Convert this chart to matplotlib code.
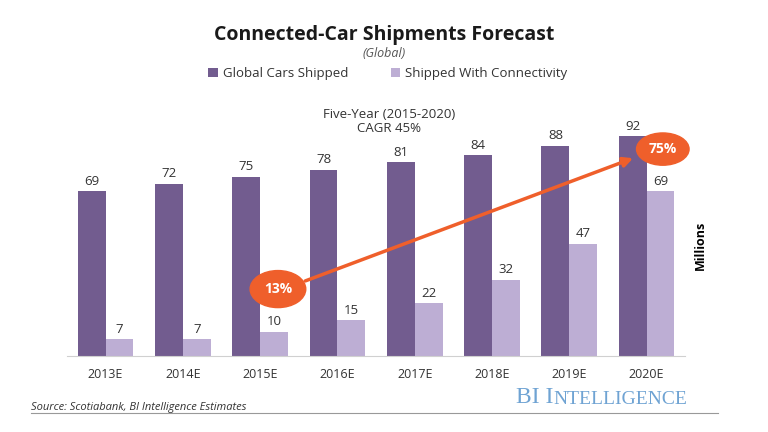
import matplotlib.pyplot as plt
from matplotlib.patches import Ellipse
import numpy as np

years = ['2013E', '2014E', '2015E', '2016E', '2017E', '2018E', '2019E', '2020E']
global_cars = [69, 72, 75, 78, 81, 84, 88, 92]
connected = [7, 7, 10, 15, 22, 32, 47, 69]
share_start = '13%'
share_end = '75%'

dark = '#725c8f'
light = '#bdaed4'
orange = '#ef5f2b'

plt.rcParams['font.family'] = ['Open Sans', 'DejaVu Sans']

fig = plt.figure(figsize=(7.68, 4.32), dpi=100)
ax = fig.add_axes([0.0872, 0.176, 0.805, 0.553])

x = np.arange(len(years))
w = 0.36
ax.bar(x - w / 2, global_cars, w, color=dark, label='Global Cars Shipped')
ax.bar(x + w / 2, connected, w, color=light, label='Shipped With Connectivity')

for i in range(len(years)):
    ax.text(x[i] - w / 2, global_cars[i] + 1.5, str(global_cars[i]), ha='center', va='bottom',
            fontsize=9.5, color='#333333')
    ax.text(x[i] + w / 2, connected[i] + 1.5, str(connected[i]), ha='center', va='bottom',
            fontsize=9.5, color='#333333')

ax.set_xlim(-0.5, 7.5)
ax.set_ylim(0, 100)
ax.set_xticks(x)
ax.set_xticklabels(years, fontsize=9, color='#333333')
ax.tick_params(axis='x', length=0, pad=9)
ax.set_yticks([])
for s in ['top', 'left', 'right']:
    ax.spines[s].set_visible(False)
ax.spines['bottom'].set_color('#d0d0d0')

# CAGR arrow and bubbles
ax.annotate('', xy=(6.86, 83.2), xytext=(2.55, 31),
            arrowprops=dict(arrowstyle='-|>', color=orange, lw=2.5, mutation_scale=14))
ax.add_patch(Ellipse((2.23, 28.0), 0.72, 15.5, color=orange, zorder=5, clip_on=False))
ax.add_patch(Ellipse((7.21, 86.6), 0.68, 13.5, color=orange, zorder=5, clip_on=False))
ax.text(2.23, 28.0, share_start, ha='center', va='center', color='white', fontsize=10,
        fontweight='bold', zorder=6)
ax.text(7.21, 86.6, share_end, ha='center', va='center', color='white', fontsize=10,
        fontweight='bold', zorder=6)

ax.text(3.67, 98, 'Five-Year (2015-2020)\nCAGR 45%', ha='center', va='center',
        fontsize=9.5, color='#333333', linespacing=1.1)

fig.text(0.912, 0.433, 'Millions', rotation=90, ha='center', va='center',
         fontsize=9, fontweight='bold')

# titles and legend
fig.text(0.5, 0.918, 'Connected-Car Shipments Forecast', ha='center', va='center',
         fontsize=14, fontweight='bold', color='#1a1a1a')
fig.text(0.5, 0.876, '(Global)', ha='center', va='center', fontsize=9,
         style='italic', color='#555555')
fig.legend(loc='center', bbox_to_anchor=(0.505, 0.829), ncol=2, frameon=False,
           fontsize=9.5, handlelength=0.7, handleheight=0.7, handletextpad=0.4,
           columnspacing=3.2, labelcolor='#333333')

# footer
fig.text(0.04, 0.057, 'Source: Scotiabank, BI Intelligence Estimates', ha='left',
         va='center', fontsize=8, style='italic', color='#333333')
fig.add_artist(plt.Line2D([0.04, 0.935], [0.043, 0.043], color='#999999', lw=0.8))
bi = fig.text(0.672, 0.056, 'BI I', ha='left', va='bottom', fontsize=17,
              family='Liberation Serif', color='#6fa3d3')
ax.annotate('NTELLIGENCE', xy=(1, 0), xycoords=bi, ha='left', va='bottom',
            fontsize=14, family='Liberation Serif', color='#6fa3d3',
            annotation_clip=False)

fig.savefig('out.png', dpi=100)
